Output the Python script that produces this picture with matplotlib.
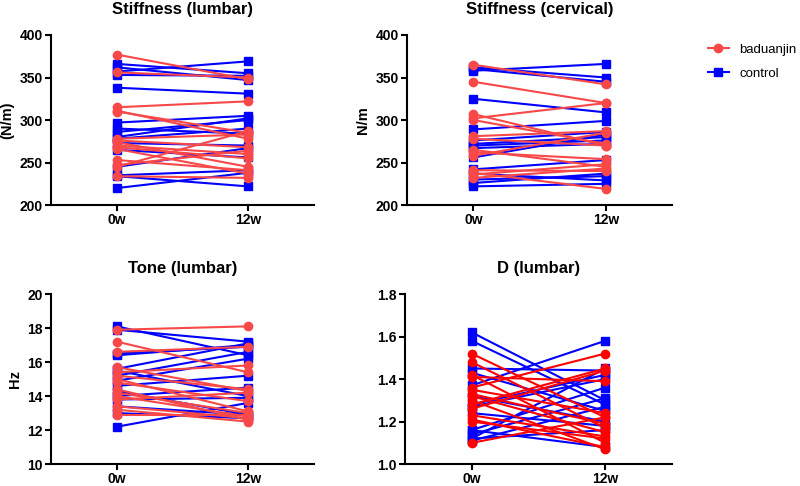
import matplotlib.pyplot as plt

plt.rcParams['font.family'] = ['Liberation Sans', 'DejaVu Sans']

times = ['0w', '12w']

# Stiffness (lumbar), N/m
lum_bad_0 = [377, 356, 315, 311, 276, 274, 270, 266, 253, 247, 245, 234, 278, 268, 310]
lum_bad_12 = [348, 350, 322, 278, 268, 245, 260, 237, 241, 264, 287, 232, 283, 255, 285]
lum_con_0 = [366, 362, 357, 353, 338, 297, 286, 280, 278, 273, 265, 245, 235, 234, 220, 290]
lum_con_12 = [355, 347, 369, 352, 331, 305, 300, 302, 290, 270, 256, 267, 241, 222, 238, 284]

# Stiffness (cervical), N/m
cer_bad_0 = [365, 345, 307, 302, 281, 278, 265, 262, 241, 238, 236, 232, 258, 300]
cer_bad_12 = [342, 320, 270, 320, 287, 270, 245, 254, 240, 219, 248, 243, 285, 272]
cer_con_0 = [362, 358, 360, 325, 289, 276, 272, 270, 256, 242, 237, 230, 226, 222, 267]
cer_con_12 = [350, 366, 345, 309, 299, 286, 280, 276, 283, 253, 229, 234, 237, 225, 272]

# Tone (lumbar), Hz
tone_bad_0 = [17.9, 17.2, 16.6, 15.7, 15.4, 15.0, 14.8, 14.4, 14.0, 13.8, 13.4, 13.2, 12.9, 14.2, 15.2]
tone_bad_12 = [18.1, 15.4, 16.9, 14.3, 15.8, 13.1, 13.7, 12.6, 12.8, 14.2, 12.7, 12.5, 12.9, 13.0, 14.4]
tone_con_0 = [18.1, 17.9, 16.4, 16.5, 15.6, 15.2, 14.9, 14.6, 14.0, 13.8, 13.4, 13.0, 12.2, 14.3, 15.5]
tone_con_12 = [16.4, 17.2, 17.0, 16.9, 17.1, 16.6, 16.2, 15.2, 14.5, 13.9, 12.9, 12.7, 13.6, 12.9, 14.0]

# D (lumbar)
d_bad_0 = [1.52, 1.48, 1.42, 1.41, 1.36, 1.35, 1.32, 1.28, 1.26, 1.21, 1.20, 1.10, 1.30, 1.33, 1.23]
d_bad_12 = [1.22, 1.17, 1.10, 1.39, 1.52, 1.24, 1.15, 1.45, 1.44, 1.08, 1.12, 1.22, 1.07, 1.19, 1.13]
d_con_0 = [1.62, 1.58, 1.45, 1.43, 1.37, 1.32, 1.28, 1.27, 1.24, 1.16, 1.14, 1.12, 1.11, 1.16, 1.12]
d_con_12 = [1.30, 1.28, 1.44, 1.25, 1.58, 1.20, 1.42, 1.40, 1.18, 1.36, 1.31, 1.45, 1.27, 1.08, 1.16]

BLUE = '#0000ff'
LRED = '#f84848'

fig = plt.figure(figsize=(8, 4.86), dpi=100)

panels = [
    ([0.064, 0.578, 0.328, 0.35], 'Stiffness (lumbar)', '(N/m)', (200, 400), [200, 250, 300, 350, 400],
     lum_bad_0, lum_bad_12, lum_con_0, lum_con_12, LRED, '{:.0f}'),
    ([0.509, 0.578, 0.331, 0.35], 'Stiffness (cervical)', 'N/m', (200, 400), [200, 250, 300, 350, 400],
     cer_bad_0, cer_bad_12, cer_con_0, cer_con_12, LRED, '{:.0f}'),
    ([0.064, 0.045, 0.328, 0.35], 'Tone (lumbar)', 'Hz', (10, 20), [10, 12, 14, 16, 18, 20],
     tone_bad_0, tone_bad_12, tone_con_0, tone_con_12, LRED, '{:.0f}'),
    ([0.506, 0.045, 0.334, 0.35], 'D (lumbar)', '', (1.0, 1.8), [1.0, 1.2, 1.4, 1.6, 1.8],
     d_bad_0, d_bad_12, d_con_0, d_con_12, '#ff0000', '{:.1f}'),
]

for rect, title, ylabel, ylim, yticks, b0, b12, c0, c12, rcol, fmt in panels:
    ax = fig.add_axes(rect)
    for a, b in zip(c0, c12):
        ax.plot([0, 1], [a, b], color=BLUE, lw=1.5, marker='s', ms=6, clip_on=False, zorder=3)
    for a, b in zip(b0, b12):
        ax.plot([0, 1], [a, b], color=rcol, lw=1.5, marker='o', ms=6, clip_on=False, zorder=4)
    ax.set_xlim(-0.5, 1.5)
    ax.set_ylim(*ylim)
    ax.set_yticks(yticks)
    ax.set_yticklabels([fmt.format(v) for v in yticks], fontsize=10, fontweight='bold')
    ax.set_xticks([0, 1])
    ax.set_xticklabels(times, fontsize=10, fontweight='bold')
    ax.spines['top'].set_visible(False)
    ax.spines['right'].set_visible(False)
    ax.spines['left'].set_linewidth(1.5)
    ax.spines['bottom'].set_linewidth(1.5)
    ax.tick_params(width=1.5, length=4, pad=2)
    ax.set_title(title, fontsize=12, fontweight='bold', pad=15)
    if ylabel:
        ax.set_ylabel(ylabel, fontsize=10.5, fontweight='bold', labelpad=4)

# legend
h1, = plt.plot([], [], color=LRED, lw=1.5, marker='o', ms=6)
h2, = plt.plot([], [], color=BLUE, lw=1.5, marker='s', ms=6)
fig.legend([h1, h2], ['baduanjin', 'control'], loc='upper left',
           bbox_to_anchor=(0.87, 0.935), frameon=False, fontsize=9.5,
           handlelength=1.6, labelspacing=0.9)

fig.savefig('out.png', dpi=100)
